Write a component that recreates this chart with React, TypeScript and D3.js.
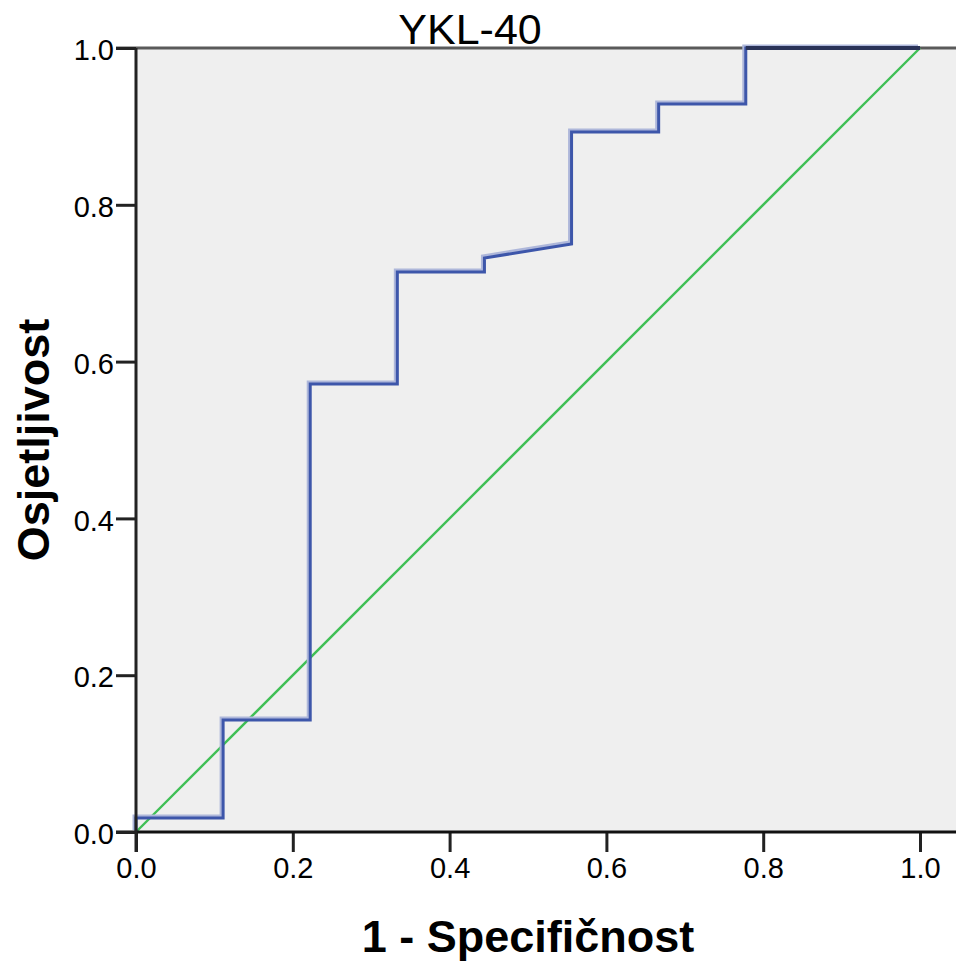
import React, { useEffect, useRef } from 'react';
import * as d3 from 'd3';

// ROC curve points (1 - specificity, sensitivity)
const rocFpr = [0, 0, 1 / 9, 1 / 9, 2 / 9, 2 / 9, 3 / 9, 3 / 9, 4 / 9, 4 / 9, 5 / 9, 5 / 9, 6 / 9, 6 / 9, 7 / 9, 7 / 9, 1];
const rocTpr = [0, 1 / 56, 1 / 56, 8 / 56, 8 / 56, 32 / 56, 32 / 56, 40 / 56, 40 / 56, 41 / 56, 42 / 56, 50 / 56, 50 / 56, 52 / 56, 52 / 56, 1, 1];
const refLine = [0, 1];
const tickValues = [0, 0.2, 0.4, 0.6, 0.8, 1.0];

const W = 956;
const H = 961;

export default function App() {
  const svgRef = useRef<SVGSVGElement>(null);

  useEffect(() => {
    if (!svgRef.current) return;
    const svg = d3.select(svgRef.current);
    svg.selectAll('*').remove();

    const left = 136;
    const right = 920;
    const top = 48;
    const bottom = 832;
    const font = '"Liberation Sans", Arial, sans-serif';

    const x = d3.scaleLinear().domain([0, 1]).range([left, right]);
    const y = d3.scaleLinear().domain([0, 1]).range([bottom, top]);

    // 배경
    svg.append('rect')
      .attr('x', left)
      .attr('y', top)
      .attr('width', W - left)
      .attr('height', bottom - top)
      .attr('fill', '#efefef');

    // 제목 (프레임 아래에 깔림)
    svg.append('text')
      .attr('x', 470)
      .attr('y', 44)
      .attr('text-anchor', 'middle')
      .attr('font-family', font)
      .attr('font-size', 43)
      .attr('fill', '#000')
      .text('YKL-40');

    // top frame
    svg.append('line')
      .attr('x1', left - 20)
      .attr('x2', W)
      .attr('y1', top)
      .attr('y2', top)
      .attr('stroke', '#5a5a5a')
      .attr('stroke-width', 3);

    // 기준선 (diagonal)
    svg.append('line')
      .attr('x1', x(refLine[0]))
      .attr('y1', y(refLine[0]))
      .attr('x2', x(refLine[1]))
      .attr('y2', y(refLine[1]))
      .attr('stroke', '#3fbf55')
      .attr('stroke-width', 2.4);

    const pts: [number, number][] = rocFpr.map((f, i) => [f, rocTpr[i]]);
    const line = d3.line<[number, number]>().x(d => x(d[0])).y(d => y(d[1]));

    // halo (light) then main curve
    svg.append('path')
      .attr('d', line(pts))
      .attr('fill', 'none')
      .attr('stroke', '#aeb7da')
      .attr('stroke-width', 3)
      .attr('transform', 'translate(-2,-2)');
    svg.append('path')
      .attr('d', line(pts))
      .attr('fill', 'none')
      .attr('stroke', '#3d56aa')
      .attr('stroke-width', 3);
    // curve along the top edge looks dark where it meets the frame
    svg.append('line')
      .attr('x1', x(rocFpr[rocFpr.length - 2]))
      .attr('x2', x(1))
      .attr('y1', y(1))
      .attr('y2', y(1))
      .attr('stroke', '#2a3358')
      .attr('stroke-width', 4);

    // 축
    const xAxis = d3.axisBottom(x)
      .tickValues(tickValues)
      .tickSize(20)
      .tickPadding(6)
      .tickFormat(d3.format('.1f'));
    const gx = svg.append('g').attr('transform', `translate(0,${bottom})`).call(xAxis);
    gx.select('.domain').remove();
    gx.append('line')
      .attr('x1', left - 20)
      .attr('x2', W)
      .attr('y1', 0)
      .attr('y2', 0)
      .attr('stroke', '#111')
      .attr('stroke-width', 3);
    gx.selectAll('.tick line').attr('stroke', '#222').attr('stroke-width', 3);
    gx.selectAll('.tick text')
      .attr('font-family', font)
      .attr('font-size', 29)
      .attr('fill', '#000')
      .attr('dy', '0.71em')
      .attr('y', 25);

    const yAxis = d3.axisLeft(y)
      .tickValues(tickValues)
      .tickSize(20)
      .tickPadding(2)
      .tickFormat(d3.format('.1f'));
    const gy = svg.append('g').attr('transform', `translate(${left},0)`).call(yAxis);
    gy.select('.domain').remove();
    gy.append('line')
      .attr('x1', 0)
      .attr('x2', 0)
      .attr('y1', top)
      .attr('y2', bottom + 20)
      .attr('stroke', '#222')
      .attr('stroke-width', 3);
    gy.selectAll('.tick line').attr('stroke', '#222').attr('stroke-width', 3);
    gy.selectAll('.tick text')
      .attr('font-family', font)
      .attr('font-size', 29)
      .attr('fill', '#000')
      .attr('dy', '0.4em');

    // 축 레이블
    svg.append('text')
      .attr('x', 528)
      .attr('y', 952)
      .attr('text-anchor', 'middle')
      .attr('font-family', font)
      .attr('font-weight', 'bold')
      .attr('font-size', 45)
      .attr('fill', '#000')
      .text('1 - Specifičnost');

    svg.append('text')
      .attr('transform', 'rotate(-90)')
      .attr('x', -440)
      .attr('y', 49)
      .attr('text-anchor', 'middle')
      .attr('font-family', font)
      .attr('font-weight', 'bold')
      .attr('font-size', 45)
      .attr('fill', '#000')
      .text('Osjetljivost');
  }, []);

  return (
    <div style={{ position: 'absolute', left: 0, top: 0, width: W, height: H, background: '#fff' }}>
      <svg ref={svgRef} width={W} height={H} viewBox={`0 0 ${W} ${H}`} style={{ display: 'block' }} />
    </div>
  );
}
